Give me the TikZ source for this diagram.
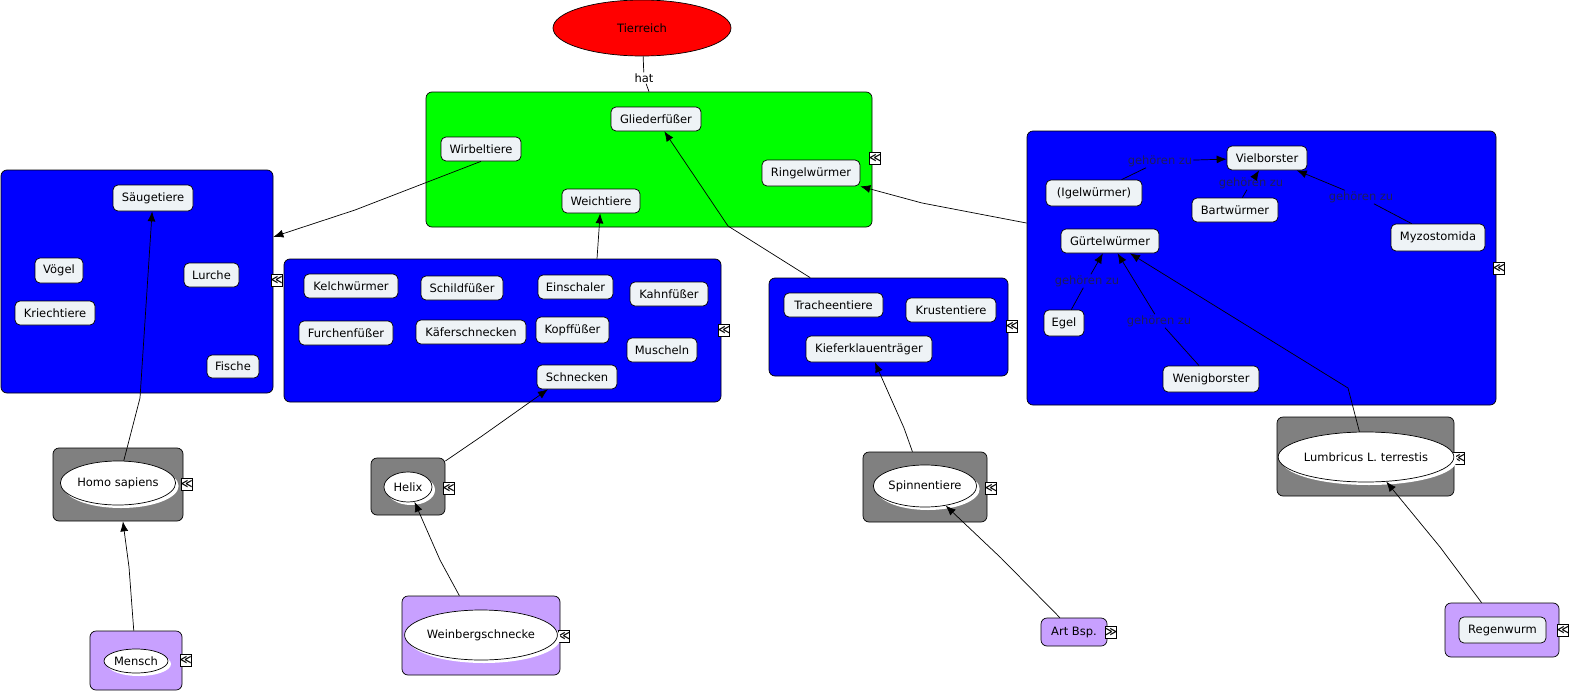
\documentclass[tikz,border=0pt]{standalone}
\usepackage{fontspec}
\setmainfont{DejaVu Sans}
\usetikzlibrary{arrows.meta,shapes.geometric,shadows}
\definecolor{lightnode}{RGB}{238,243,246}
\definecolor{purp}{RGB}{200,160,255}
\definecolor{glab}{RGB}{30,30,90}
\definecolor{grayb}{RGB}{128,128,128}
\begin{document}
\begin{tikzpicture}[x=1pt,y=-1pt,font=\fontsize{11.5}{13}\selectfont,
  cn/.style={draw,fill=lightnode,rounded corners=5pt,inner sep=0pt,line width=0.7pt},
  grp/.style={draw,rounded corners=6pt,inner sep=0pt,line width=0.7pt},
  ell/.style={ellipse,draw,fill=white,inner sep=0pt,line width=0.7pt,
    drop shadow={fill=white,opacity=1,shadow xshift=3pt,shadow yshift=-3pt}},
  ico/.style={draw,fill=white,inner sep=0pt,minimum width=11pt,minimum height=12pt,
    font=\fontsize{11}{11}\bfseries,line width=0.6pt},
  lab/.style={inner sep=1pt,text=glab},
  ln/.style={line width=0.7pt},
  arr/.style={line width=0.7pt,-{Latex[length=10pt,width=8pt]}}]
\fill[white] (0,0) rectangle (1573,693);
\useasboundingbox (0,0) rectangle (1573,693);

% top concept
\node[ellipse,draw,fill=red,minimum width=178pt,minimum height=56pt,inner sep=0pt,line width=0.7pt] (tier) at (642,28) {Tierreich};
\node[inner sep=1pt] (hat) at (644,78) {hat};

% groups
\node[grp,fill=green,minimum width=446pt,minimum height=135pt] (gVert) at (649,159.5) {};
\node[grp,fill=blue,minimum width=272pt,minimum height=223pt] (gWirb) at (137,281.5) {};
\node[grp,fill=blue,minimum width=437pt,minimum height=143pt] (gMoll) at (502.5,330.5) {};
\node[grp,fill=blue,minimum width=239pt,minimum height=98pt] (gArth) at (888.5,327) {};
\node[grp,fill=blue,minimum width=469pt,minimum height=274pt] (gAnn) at (1261.5,268) {};

\node[grp,fill=grayb,minimum width=130pt,minimum height=73pt] (gHomo) at (118,484.5) {};
\node[grp,fill=purp,minimum width=92pt,minimum height=59pt] (gMensch) at (136,660.5) {};
\node[grp,fill=grayb,minimum width=74pt,minimum height=57pt] (gHelix) at (408,486.5) {};
\node[grp,fill=purp,minimum width=158pt,minimum height=79pt] (gWein) at (481,635.5) {};
\node[grp,fill=grayb,minimum width=124pt,minimum height=70pt] (gSpin) at (925,487) {};
\node[grp,fill=purp,minimum width=66pt,minimum height=28pt] (art) at (1074,632) {Art Bsp.};
\node[grp,fill=grayb,minimum width=177pt,minimum height=79pt] (gLumb) at (1365.5,456.5) {};
\node[grp,fill=purp,minimum width=114pt,minimum height=54pt] (gReg) at (1502,630) {};

% collapse icons
\node[ico] (i1) at (875,158) {≪};
\node[ico] (i2) at (277,280) {≪};
\node[ico] (i3) at (724,330) {≪};
\node[ico] (i4) at (1012,326) {≪};
\node[ico] (i5) at (1499,268) {≪};
\node[ico] (i6) at (187,484) {≪};
\node[ico] (i7) at (186,660) {≪};
\node[ico] (i8) at (449,488) {≪};
\node[ico] (i9) at (564,636) {≪};
\node[ico] (i10) at (991,488) {≪};
\node[ico] (i11) at (1111,632) {≫};
\node[ico] (i12) at (1459,458) {≪};
\node[ico] (i13) at (1563,630) {≪};

% ellipses
\node[ell,minimum width=103pt,minimum height=44pt] (homo) at (118,483) {Homo sapiens};
\node[ell,minimum width=64pt,minimum height=24pt] (mensch) at (136,661) {Mensch};
\node[ell,minimum width=48pt,minimum height=30pt] (helix) at (408,487) {Helix};
\node[ell,minimum width=132pt,minimum height=50pt] (wein) at (481,635) {Weinbergschnecke};
\node[ell,minimum width=96pt,minimum height=42pt] (spin) at (925,486) {Spinnentiere};
\node[ell,minimum width=150pt,minimum height=50pt] (lumb) at (1366,457) {Lumbricus L. terrestis};

% concept nodes
\node[cn,minimum width=90pt,minimum height=24pt] (glied) at (656,119) {Gliederfüßer};
\node[cn,minimum width=80pt,minimum height=24pt] (wirbt) at (481,149) {Wirbeltiere};
\node[cn,minimum width=98pt,minimum height=26pt] (ringel) at (811,173) {Ringelwürmer};
\node[cn,minimum width=78pt,minimum height=24pt] (weich) at (601,201) {Weichtiere};

\node[cn,minimum width=80pt,minimum height=26pt] (saeug) at (153,198) {Säugetiere};
\node[cn,minimum width=48pt,minimum height=25pt] (voegel) at (59,270.5) {Vögel};
\node[cn,minimum width=55pt,minimum height=24pt] (lurche) at (211.5,275) {Lurche};
\node[cn,minimum width=80pt,minimum height=24pt] (kriech) at (55,313) {Kriechtiere};
\node[cn,minimum width=52pt,minimum height=23pt] (fische) at (233,366.5) {Fische};

\node[cn,minimum width=94pt,minimum height=24pt] (kelch) at (351,286) {Kelchwürmer};
\node[cn,minimum width=82pt,minimum height=24pt] (schild) at (462,288) {Schildfüßer};
\node[cn,minimum width=75pt,minimum height=24pt] (einsch) at (575.5,287) {Einschaler};
\node[cn,minimum width=78pt,minimum height=24pt] (kahn) at (669,294) {Kahnfüßer};
\node[cn,minimum width=94pt,minimum height=24pt] (furchen) at (346,333) {Furchenfüßer};
\node[cn,minimum width=110pt,minimum height=24pt] (kaefer) at (471,332) {Käferschnecken};
\node[cn,minimum width=73pt,minimum height=26pt] (kopf) at (572.5,330) {Kopffüßer};
\node[cn,minimum width=70pt,minimum height=24pt] (muscheln) at (662,350) {Muscheln};
\node[cn,minimum width=80pt,minimum height=24pt] (schnecken) at (577,377) {Schnecken};

\node[cn,minimum width=99pt,minimum height=24pt] (trach) at (833.5,305) {Tracheentiere};
\node[cn,minimum width=90pt,minimum height=24pt] (krust) at (951,310) {Krustentiere};
\node[cn,minimum width=126pt,minimum height=26pt] (kiefer) at (869,349) {Kieferklauenträger};

\node[cn,minimum width=80pt,minimum height=24pt] (viel) at (1267,158) {Vielborster};
\node[cn,minimum width=96pt,minimum height=26pt] (igel) at (1094,193) {(Igelwürmer)};
\node[cn,minimum width=86pt,minimum height=24pt] (bart) at (1235,210) {Bartwürmer};
\node[cn,minimum width=98pt,minimum height=24pt] (guertel) at (1110,241) {Gürtelwürmer};
\node[cn,minimum width=94pt,minimum height=27pt] (myzo) at (1438,237.5) {Myzostomida};
\node[cn,minimum width=40pt,minimum height=26pt] (egel) at (1064,323) {Egel};
\node[cn,minimum width=96pt,minimum height=26pt] (wenig) at (1211,379) {Wenigborster};
\node[cn,minimum width=87pt,minimum height=26pt] (regen) at (1502.5,630) {Regenwurm};

% linking phrases
\node[lab] (l1) at (1160,161) {gehören zu};
\node[lab] (l2) at (1251,183) {gehören zu};
\node[lab] (l3) at (1361,197) {gehören zu};
\node[lab] (l4) at (1087,281) {gehören zu};
\node[lab] (l5) at (1159,321) {gehören zu};

% bend points
\coordinate (kW) at (355,210);
\coordinate (kG) at (728,226);
\coordinate (kR) at (922,203);
\coordinate (kH) at (140,398);
\coordinate (kM) at (129,567);
\coordinate (kHx) at (482,436);
\coordinate (kWb) at (440,560);
\coordinate (kS) at (904,428);
\coordinate (kA) at (1001,558);
\coordinate (kL) at (1348,388);
\coordinate (kRg) at (1440,547);

% connectors
\draw[ln] (tier) -- (hat);
\draw[ln] (hat) -- (gVert.north);
\draw[arr] (wirbt.south) -- (kW) -- (gWirb);
\draw[arr] ([xshift=-4pt]weich.south |- gMoll.north) -- (weich);
\draw[arr] (gArth) -- (kG) -- (glied);
\draw[arr] (gAnn) -- (kR) -- (ringel);
\draw[arr] (homo) -- (kH) -- (saeug);
\draw[arr] (gMensch) -- (kM) -- (gHomo);
\draw[arr] (gHelix) -- (kHx) -- (schnecken.-157);
\draw[arr] (gWein) -- (kWb) -- (helix);
\draw[arr] (gSpin) -- (kS) -- (kiefer);
\draw[arr] (art) -- (kA) -- (spin);
\draw[arr] (lumb) -- (kL) -- (guertel);
\draw[arr] (gReg) -- (kRg) -- (lumb);

\draw[ln] (igel) -- (l1);
\draw[arr] (l1) -- (viel);
\draw[ln] (bart) -- (l2);
\draw[arr] (l2) -- (viel);
\draw[ln] (myzo) -- (l3);
\draw[arr] (l3) -- (viel);
\draw[ln] (egel) -- (l4);
\draw[arr] (l4) -- (guertel);
\draw[ln] (wenig) -- (l5);
\draw[arr] (l5) -- (guertel);
\end{tikzpicture}
\end{document}
